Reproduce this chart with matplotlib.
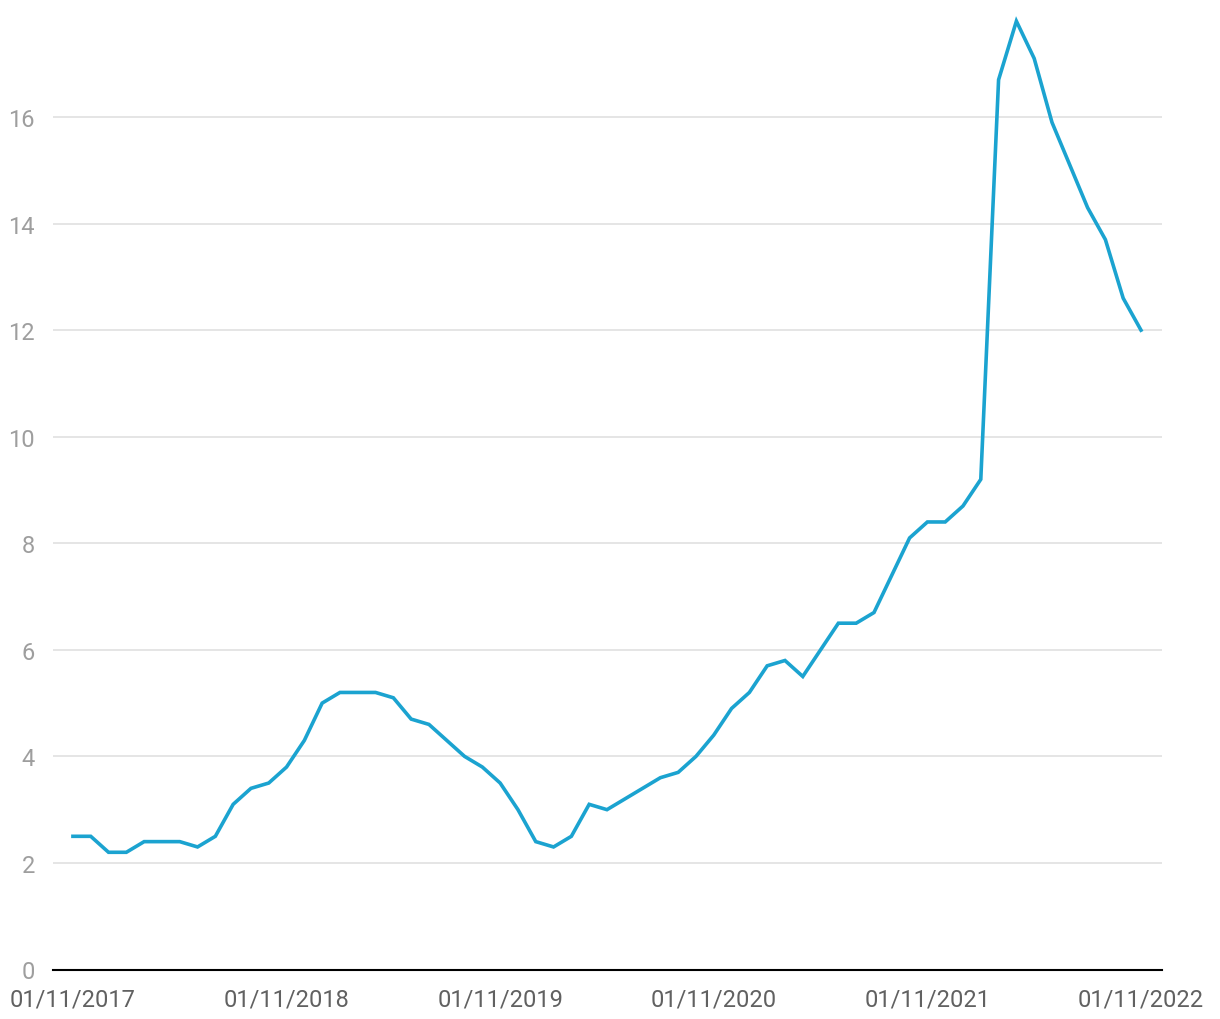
import matplotlib.pyplot as plt

plt.rcParams['font.family'] = ['Roboto', 'DejaVu Sans']

# monthly values, 01/11/2017 .. 01/11/2022
values = [2.5, 2.5, 2.2, 2.2, 2.4, 2.4, 2.4, 2.3, 2.5, 3.1, 3.4, 3.5,
          3.8, 4.3, 5.0, 5.2, 5.2, 5.2, 5.1, 4.7, 4.6, 4.3, 4.0, 3.8,
          3.5, 3.0, 2.4, 2.3, 2.5, 3.1, 3.0, 3.2, 3.4, 3.6, 3.7, 4.0,
          4.4, 4.9, 5.2, 5.7, 5.8, 5.5, 6.0, 6.5, 6.5, 6.7, 7.4, 8.1,
          8.4, 8.4, 8.7, 9.2, 16.7, 17.8, 17.1, 15.9, 15.1, 14.3, 13.7, 12.6,
          12.0]
tick_pos = [0, 12, 24, 36, 48, 60]
tick_labels = ["01/11/2017", "01/11/2018", "01/11/2019",
               "01/11/2020", "01/11/2021", "01/11/2022"]
y_ticks = [0, 2, 4, 6, 8, 10, 12, 14, 16]

fig = plt.figure(figsize=(12.2, 10.2), dpi=100)
ax = fig.add_axes([53/1220, 49.5/1020, (1162-53)/1220, (969-10)/1020])

ax.plot(range(len(values)), values, color='#1ba3d0', linewidth=2.6,
        solid_joinstyle='miter', zorder=3)

ax.set_xlim(-1.12, 61.18)
ax.set_ylim(0, 18)
ax.set_yticks(y_ticks)
ax.set_xticks(tick_pos)
ax.set_xticklabels(tick_labels)
ax.grid(axis='y', color='#e0e0e0', linewidth=1.2)
ax.set_axisbelow(True)

for s in ['top', 'right', 'left']:
    ax.spines[s].set_visible(False)
ax.spines['bottom'].set_color('#000000')
ax.spines['bottom'].set_linewidth(1.5)
ax.spines['bottom'].set_zorder(4)

ax.tick_params(axis='y', length=0, pad=13, labelsize=17, labelcolor='#9e9e9e')
ax.tick_params(axis='x', length=0, pad=13, labelsize=17, labelcolor='#616161')

fig.savefig('out.png', dpi=100)
